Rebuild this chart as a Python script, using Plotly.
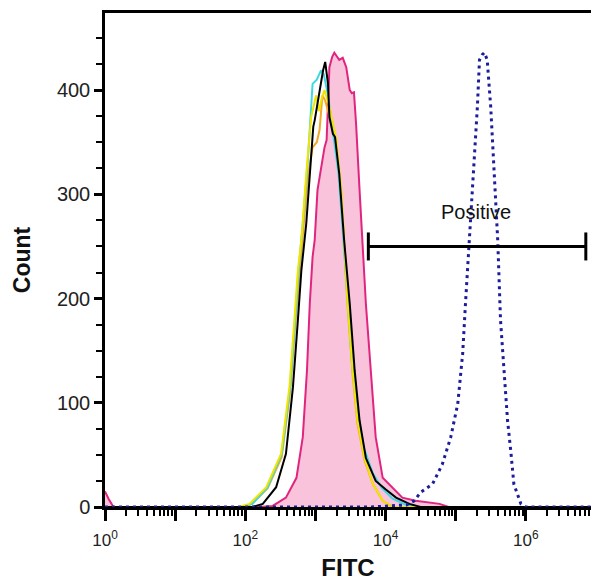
import plotly.graph_objects as go

# ---- data (x in log10 FITC decades, y = count) ----
pink_dec = [0, 0.05, 0.12, 2.2, 2.39, 2.58, 2.73, 2.82, 2.88, 2.92, 2.96, 2.99, 3.03, 3.08, 3.13, 3.16, 3.18, 3.2,
            3.24, 3.27, 3.30, 3.34, 3.39, 3.44, 3.49, 3.52, 3.55, 3.58, 3.63, 3.67, 3.70, 3.72, 3.79, 3.86,
            3.96, 4.05, 4.24, 4.43, 4.77, 4.9, 6.93]
pink_cnt = [15, 8, 0, 0, 1, 9, 28, 67, 131, 195, 240, 256, 304, 326, 345, 352, 384, 422,
            432, 436, 433, 429, 431, 422, 400, 397, 398, 368, 304, 256, 217, 195, 131, 67,
            28, 22, 9, 6, 3, 0, 0]

black_dec = [0, 2.1, 2.25, 2.44, 2.58, 2.68, 2.75, 2.80, 2.87, 2.92, 2.97, 2.99, 3.02, 3.06, 3.11, 3.14,
             3.18, 3.2, 3.25, 3.28, 3.34, 3.41, 3.46, 3.49, 3.56, 3.63, 3.72, 3.86, 4.0, 4.15, 4.34, 4.5, 6.93]
black_cnt = [0, 0, 3, 19, 51, 115, 179, 227, 272, 320, 365, 371, 384, 400, 419, 427,
             406, 374, 358, 355, 320, 256, 217, 195, 131, 83, 47, 25, 17, 9, 3, 0, 0]

cyan_dec = [0, 1.95, 2.1, 2.32, 2.52, 2.64, 2.71, 2.76, 2.82, 2.89, 2.96, 3.02, 3.08, 3.12, 3.18, 3.25,
            3.33, 3.40, 3.45, 3.52, 3.60, 3.70, 3.82, 3.95, 4.1, 4.3, 4.45, 6.93]
cyan_cnt = [0, 0, 3, 19, 51, 115, 179, 227, 272, 330, 406, 410, 419, 415, 395, 360,
            320, 256, 205, 140, 90, 55, 32, 18, 8, 2, 0, 0]

yellow_dec = [0, 1.9, 2.06, 2.3, 2.51, 2.63, 2.70, 2.75, 2.80, 2.87, 2.94, 3.01, 3.05, 3.09, 3.13, 3.2,
              3.3, 3.37, 3.41, 3.46, 3.53, 3.60, 3.70, 3.82, 3.96, 4.1, 6.93]
yellow_cnt = [0, 0, 3, 19, 51, 115, 179, 227, 256, 320, 374, 395, 380, 392, 400, 384,
              352, 304, 256, 195, 131, 83, 47, 22, 6, 0, 0]

orange_dec = [0, 1.95, 2.1, 2.32, 2.52, 2.64, 2.71, 2.77, 2.83, 2.90, 2.96, 3.02, 3.06, 3.10, 3.14, 3.2,
              3.3, 3.37, 3.41, 3.46, 3.53, 3.60, 3.70, 3.82, 3.96, 4.1, 6.93]
orange_cnt = [0, 0, 3, 18, 48, 110, 172, 222, 268, 320, 345, 350, 362, 395, 390, 375,
              345, 300, 252, 192, 128, 80, 45, 22, 6, 0, 0]

blue_dec = [0, 3.8, 4.3, 4.41, 4.50, 4.67, 4.81, 4.93, 5.03, 5.10, 5.14, 5.19, 5.26, 5.31, 5.34, 5.38,
            5.41, 5.45, 5.50, 5.55, 5.6, 5.64, 5.69, 5.74, 5.79, 5.83, 5.93, 6.0, 6.93]
blue_cnt = [0, 0, 2, 6, 14, 22, 41, 67, 99, 147, 195, 249, 320, 384, 429, 434,
            436, 429, 384, 320, 256, 179, 131, 83, 51, 22, 3, 0, 0]

gate_bounds = [5690, 7.18e6]
gate_count = 250
gate_label = "Positive"
gate_label_pos = [1.95e5, 281]

x_tick_vals = [1, 10, 100, 1e3, 1e4, 1e5, 1e6]
x_tick_text = ["10<sup>0</sup>", "", "10<sup>2</sup>", "", "10<sup>4</sup>", "", "10<sup>6</sup>"]
y_tick_vals = [0, 100, 200, 300, 400]


def lin(dec):
    return [10 ** d for d in dec]


FONT = "Arial, Liberation Sans, sans-serif"
fig = go.Figure()

fig.add_trace(go.Scatter(x=lin(pink_dec), y=pink_cnt, mode="lines", fill="tozeroy",
                         fillcolor="#f9c3dc", line=dict(color="#e0257f", width=2)))
fig.add_trace(go.Scatter(x=lin(orange_dec), y=orange_cnt, mode="lines",
                         line=dict(color="#f4a62a", width=2)))
fig.add_trace(go.Scatter(x=lin(cyan_dec), y=cyan_cnt, mode="lines",
                         line=dict(color="#3fd8e2", width=2)))
fig.add_trace(go.Scatter(x=lin(yellow_dec), y=yellow_cnt, mode="lines",
                         line=dict(color="#f0e400", width=2)))
fig.add_trace(go.Scatter(x=lin(black_dec), y=black_cnt, mode="lines",
                         line=dict(color="#000000", width=2)))
fig.add_trace(go.Scatter(x=lin(blue_dec), y=blue_cnt, mode="lines",
                         line=dict(color="#1c1c9c", width=3, dash="3px,4px")))

# gate marker
fig.add_trace(go.Scatter(x=gate_bounds, y=[gate_count, gate_count], mode="lines+markers",
                         line=dict(color="#000000", width=3),
                         marker=dict(symbol="line-ns-open", size=20,
                                     line=dict(color="#000000", width=3)),
                         cliponaxis=False))
fig.add_trace(go.Scatter(x=[gate_label_pos[0]], y=[gate_label_pos[1]], mode="text",
                         text=[gate_label], textfont=dict(family=FONT, size=20, color="#111"),
                         textposition="middle center"))

fig.update_layout(
    width=591, height=581,
    margin=dict(l=105, r=0, t=13, b=74, autoexpand=False),
    paper_bgcolor="white", plot_bgcolor="white",
    showlegend=False,
    font=dict(family=FONT, size=18, color="#222"),
)
fig.update_xaxes(
    type="log", range=[0, 6.93], automargin=False,
    showgrid=False, zeroline=False,
    showline=True, linecolor="black", linewidth=2.5, mirror=True,
    tickmode="array", tickvals=x_tick_vals, ticktext=x_tick_text,
    ticks="outside", ticklen=11, tickwidth=3, tickcolor="black",
    ticklabelstandoff=5,
    tickfont=dict(family=FONT, size=17, color="#222"),
    minor=dict(ticks="outside", ticklen=6, tickwidth=1.5, tickcolor="black", dtick="D1", showgrid=False),
    title=dict(text="<b>FITC</b>", font=dict(family=FONT, size=24, color="#111"), standoff=12),
)
fig.update_yaxes(
    range=[0, 474], automargin=False,
    showgrid=False, zeroline=False,
    showline=True, linecolor="black", linewidth=2.5,
    tickmode="array", tickvals=y_tick_vals,
    ticks="outside", ticklen=8, tickwidth=3, tickcolor="black",
    tickfont=dict(family=FONT, size=20, color="#222"),
    minor=dict(ticks="outside", ticklen=6, tickwidth=1.5, tickcolor="black", dtick=25, showgrid=False),
    title=dict(text="<b>Count</b>", font=dict(family=FONT, size=23, color="#111"), standoff=20),
)

fig.write_html("out.html", config={"displayModeBar": False},
               post_script="document.body.style.margin='0';document.body.style.overflow='hidden';")
